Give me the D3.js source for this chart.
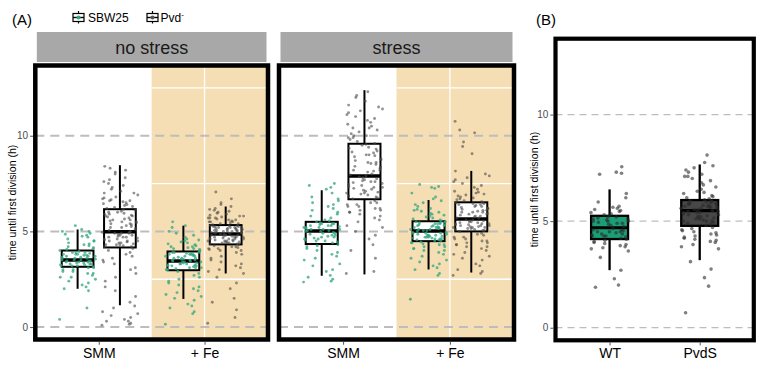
<!DOCTYPE html>
<html>
<head>
<meta charset="utf-8">
<script src="https://cdn.jsdelivr.net/npm/d3@7"></script>
<style>
  body { margin: 0; background: #fff; }
  svg { display: block; font-family: "Liberation Sans", Arial, sans-serif; }
</style>
</head>
<body>
<svg id="chart" width="764" height="366"></svg>
<script>
const stressLevels = ["no stress", "stress"];
const media = ["SMM", "+ Fe"];
const strains = ["SBW25", "Pvd"];
const strainsB = ["WT", "PvdS"];
const yTicks = [0, 5, 10];
const yTitle = "time until first division (h)";

// box summaries: [lower whisker, q1, median, q3, upper whisker], per medium then strain
const boxNoStress = [
  [[2.0, 3.15, 3.5, 4.0, 5.1], [1.14, 4.16, 4.98, 6.16, 8.46]],
  [[1.47, 2.97, 3.45, 3.95, 5.3], [2.8, 4.32, 4.86, 5.33, 6.3]]
];
const boxStress = [
  [[2.68, 4.34, 5.02, 5.5, 7.15], [2.75, 6.68, 7.9, 9.58, 12.38]],
  [[3.01, 4.49, 5.02, 5.53, 6.64], [2.85, 5.0, 5.65, 6.52, 8.16]]
];
const boxB = [[2.7, 4.16, 4.69, 5.25, 6.49], [3.17, 4.78, 5.49, 5.99, 7.66]];

// single cells (h)
const ptsNoStressSMM_SBW25 = [0.4,1.0,1.9,2.0,2.1,2.2,2.3,2.4,2.5,2.6,2.6,2.7,2.8,2.8,2.9,2.9,3.0,3.0,3.1,3.1,
  3.15,3.2,3.2,3.25,3.3,3.3,3.35,3.4,3.4,3.45,3.45,3.5,3.5,3.5,3.2,3.3,3.4,3.35,3.25,3.45,
  3.55,3.6,3.6,3.65,3.7,3.7,3.75,3.8,3.8,3.85,3.9,3.9,3.95,4.0,3.6,3.7,3.8,3.9,3.65,3.75,
  4.05,4.1,4.15,4.2,4.25,4.3,4.35,4.4,4.5,4.5,4.6,4.7,4.75,4.8,4.85,4.9,5.0,5.0,5.1,5.3];
const ptsNoStressSMM_Pvd = [0.1,0.15,0.2,0.3,0.3,0.4,0.5,0.6,0.7,0.8,1.0,1.1,1.3,1.6,1.9,2.1,2.4,2.6,2.8,3.0,3.1,3.3,3.4,3.5,3.6,3.7,3.8,3.9,4.0,4.1,
  4.2,4.2,4.25,4.3,4.3,4.35,4.4,4.4,4.45,4.5,4.5,4.55,4.6,4.6,4.65,4.7,4.7,4.75,4.8,4.8,4.85,4.9,4.9,4.95,4.95,5.0,4.3,4.5,4.7,4.9,
  5.05,5.1,5.15,5.2,5.25,5.3,5.35,5.4,5.45,5.5,5.55,5.6,5.65,5.7,5.75,5.8,5.85,5.9,5.95,6.0,6.05,6.1,6.15,5.2,5.4,5.6,5.8,6.0,5.5,5.9,
  6.2,6.25,6.3,6.35,6.4,6.45,6.5,6.55,6.6,6.65,6.7,6.75,6.8,6.9,7.0,7.0,7.1,7.2,7.3,7.4,7.5,7.6,7.7,7.8,8.0,8.1,8.2,8.3,8.4,6.6];
const ptsNoStressFe_SBW25 = [0.15,0.7,0.8,1.0,1.1,1.2,1.4,1.5,1.6,1.7,1.8,1.9,2.0,2.1,2.2,2.3,2.4,2.5,2.6,2.7,2.8,2.9,
  3.0,3.0,3.05,3.1,3.1,3.15,3.2,3.2,3.25,3.25,3.3,3.3,3.35,3.35,3.4,3.4,3.45,3.45,3.1,3.2,3.3,3.0,3.4,
  3.5,3.5,3.55,3.55,3.6,3.6,3.65,3.7,3.7,3.75,3.75,3.8,3.8,3.85,3.85,3.9,3.9,3.95,3.6,3.7,3.8,3.5,3.9,
  4.0,4.05,4.1,4.1,4.15,4.2,4.2,4.25,4.3,4.35,4.4,4.45,4.5,4.55,4.6,4.7,4.8,4.9,5.0,5.2,5.3,5.5];
const ptsNoStressFe_Pvd = [0.2,0.5,0.9,1.3,1.5,2.0,2.3,2.6,2.8,2.9,3.0,3.1,3.2,3.3,3.4,3.5,3.6,3.7,3.8,3.9,4.0,4.0,4.05,4.1,4.1,4.15,4.2,4.2,4.25,4.3,
  4.35,4.35,4.4,4.4,4.45,4.45,4.5,4.5,4.55,4.55,4.6,4.6,4.65,4.65,4.7,4.7,4.75,4.75,4.8,4.8,4.85,4.85,4.4,4.5,4.6,4.7,4.8,4.5,4.6,4.7,
  4.9,4.9,4.95,4.95,5.0,5.0,5.05,5.05,5.1,5.1,5.15,5.15,5.2,5.2,5.25,5.25,5.3,5.3,4.9,5.0,5.1,5.2,5.3,5.0,5.1,5.2,4.95,5.05,5.15,5.25,
  5.35,5.4,5.4,5.45,5.5,5.5,5.55,5.6,5.6,5.65,5.7,5.7,5.75,5.8,5.8,5.85,5.9,5.95,6.0,6.05,6.1,6.15,6.2,6.3,6.4,6.5,6.7,7.06,5.5,5.7];
const ptsStressSMM_SBW25 = [2.35,2.4,2.5,2.6,2.7,2.9,3.0,3.2,3.3,3.5,3.6,3.7,3.8,3.9,4.0,4.1,4.2,4.25,4.3,
  4.4,4.45,4.5,4.55,4.6,4.65,4.7,4.75,4.8,4.85,4.9,4.95,5.0,4.5,4.6,4.7,4.8,4.9,5.0,
  5.05,5.1,5.1,5.15,5.2,5.2,5.25,5.3,5.3,5.35,5.4,5.4,5.45,5.5,5.1,5.2,5.3,5.4,5.05,
  5.55,5.6,5.7,5.8,5.9,6.0,6.1,6.2,6.3,6.4,6.5,6.6,6.7,6.8,7.0,7.2,7.3,7.4,7.5];
const ptsStressSMM_Pvd = [2.8,2.9,3.6,4.0,4.3,4.6,4.8,5.0,5.2,5.3,5.5,5.6,5.7,5.8,5.9,6.0,6.0,6.1,6.1,6.2,6.2,6.3,6.3,6.4,6.4,6.5,6.5,6.6,
  6.7,6.75,6.8,6.85,6.9,6.95,7.0,7.05,7.1,7.15,7.2,7.25,7.3,7.35,7.4,7.45,7.5,7.55,7.6,7.65,7.7,7.75,7.8,7.85,7.9,7.0,7.3,7.6,
  7.95,8.0,8.1,8.15,8.2,8.3,8.35,8.4,8.5,8.55,8.6,8.7,8.75,8.8,8.9,8.95,9.0,9.1,9.15,9.2,9.3,9.35,9.4,9.5,9.55,8.2,8.6,9.0,
  9.6,9.7,9.8,9.9,10.0,10.0,10.1,10.2,10.3,10.4,10.5,10.6,10.7,10.8,10.9,11.0,11.1,11.2,11.3,11.4,11.5,11.6,11.8,12.0,12.1,12.3,10.4,9.9];
const ptsStressFe_SBW25 = [1.45,2.7,2.8,3.0,3.1,3.2,3.3,3.4,3.5,3.6,3.7,3.8,3.9,4.0,4.0,4.1,4.1,4.2,4.2,4.3,4.3,4.35,4.4,4.4,4.45,
  4.5,4.5,4.55,4.55,4.6,4.6,4.65,4.65,4.7,4.7,4.75,4.75,4.8,4.8,4.85,4.85,4.9,4.9,4.95,4.95,5.0,4.6,4.7,4.8,4.9,
  5.05,5.05,5.1,5.1,5.15,5.15,5.2,5.2,5.25,5.25,5.3,5.3,5.35,5.35,5.4,5.4,5.45,5.45,5.5,5.5,5.1,5.2,5.3,5.4,5.5,
  5.55,5.6,5.65,5.7,5.75,5.8,5.85,5.9,5.95,6.0,6.05,6.1,6.15,6.2,6.3,6.4,6.5,6.6,6.7,6.8,7.0,7.25,7.3,7.35,7.45];
const ptsStressFe_Pvd = [2.7,2.8,2.9,3.0,3.2,3.3,3.5,3.6,3.7,3.8,3.9,4.0,4.1,4.2,4.2,4.3,4.3,4.4,4.4,4.5,4.5,4.6,4.6,4.7,4.7,4.8,4.85,4.9,
  5.0,5.05,5.05,5.1,5.1,5.15,5.15,5.2,5.2,5.25,5.25,5.3,5.3,5.35,5.35,5.4,5.4,5.45,5.45,5.5,5.5,5.55,5.55,5.6,5.6,5.2,5.3,5.4,
  5.7,5.7,5.75,5.8,5.85,5.9,5.95,6.0,6.0,6.05,6.1,6.15,6.2,6.2,6.25,6.3,6.35,6.4,6.4,6.45,6.5,6.5,5.8,5.9,6.0,6.1,6.3,6.45,
  6.55,6.6,6.65,6.7,6.75,6.8,6.85,6.9,6.95,7.0,7.05,7.1,7.2,7.3,7.4,7.5,7.6,7.7,7.8,7.9,8.0,8.15,9.06,9.44,9.67,10.15,10.3,10.75];
const ptsB_WT = [1.9,2.0,2.3,2.7,3.3,3.6,3.7,3.75,3.8,3.85,3.9,3.95,4.0,4.05,4.1,4.15,
  4.2,4.25,4.3,4.3,4.35,4.4,4.4,4.45,4.5,4.5,4.55,4.6,4.6,4.65,4.3,4.5,
  4.75,4.8,4.85,4.9,4.95,5.0,5.0,5.05,5.1,5.1,5.15,5.2,5.2,5.25,4.9,5.0,
  5.3,5.35,5.4,5.45,5.5,5.55,5.6,5.65,5.7,5.9,6.1,6.3,7.2,7.25,7.3,7.55];
const ptsB_PvdS = [0.7,1.95,2.35,2.75,3.1,3.7,3.8,3.9,4.0,4.05,4.1,4.15,4.2,4.25,4.3,4.35,4.4,4.45,4.5,4.55,4.6,4.65,4.7,
  4.8,4.85,4.9,4.95,5.0,5.0,5.05,5.1,5.1,5.15,5.2,5.2,5.25,5.3,5.3,5.35,5.4,5.4,5.45,5.45,5.0,5.2,5.4,
  5.5,5.55,5.55,5.6,5.6,5.65,5.65,5.7,5.7,5.75,5.75,5.8,5.8,5.85,5.85,5.9,5.9,5.95,5.95,5.6,5.7,5.8,5.9,
  6.0,6.05,6.1,6.15,6.2,6.3,6.35,6.4,6.5,6.6,6.7,6.8,6.9,7.0,7.1,7.1,7.2,7.3,7.4,7.5,7.6,7.75,8.1];

const pointsNoStress = [[ptsNoStressSMM_SBW25, ptsNoStressSMM_Pvd], [ptsNoStressFe_SBW25, ptsNoStressFe_Pvd]];
const pointsStress = [[ptsStressSMM_SBW25, ptsStressSMM_Pvd], [ptsStressFe_SBW25, ptsStressFe_Pvd]];

const green = "#1b9e77",
      ptGreen = "#2fa67e",
      ptGrey = "#4a4a4a",
      tan = "#f5deb3",
      dashGrey = "#bdbdbd";

const svg = d3.select("#chart");

// sideways spread for the points (quadratic Weyl sequence, x placement only)
const jitter = i => ((i * 0.6180339887 + i * i * 0.1414213562) % 1) - 0.5;

function drawBox(g, cx, halfW, s, y, fill, lw, medW) {
  g.append("line")
    .attr("x1", cx).attr("x2", cx)
    .attr("y1", y(s[0])).attr("y2", y(s[4]))
    .attr("stroke", "#000").attr("stroke-width", lw);
  g.append("rect")
    .attr("x", cx - halfW).attr("width", halfW * 2)
    .attr("y", y(s[3])).attr("height", y(s[1]) - y(s[3]))
    .attr("fill", fill).attr("stroke", "#000").attr("stroke-width", lw);
  g.append("line")
    .attr("x1", cx - halfW).attr("x2", cx + halfW)
    .attr("y1", y(s[2])).attr("y2", y(s[2]))
    .attr("stroke", "#000").attr("stroke-width", medW);
}

/* ---------- panel A ---------- */
const yA = d3.scaleLinear().domain([-0.65, 13.67]).range([339.5, 65.5]);
const panelsA = [
  {label: stressLevels[0], x0: 35.3, x1: 268, boxes: boxNoStress, pts: pointsNoStress, axis: true},
  {label: stressLevels[1], x0: 279, x1: 514, boxes: boxStress, pts: pointsStress, axis: false}
];

panelsA.forEach(p => {
  const x = d3.scalePoint().domain(media).range([p.x0, p.x1]).padding(0.6);
  const step = x.step();
  const g = svg.append("g");
  const top = yA.range()[1], bottom = yA.range()[0];

  // +Fe background
  const feLeft = x(media[1]) - step / 2;
  g.append("rect")
    .attr("x", feLeft).attr("y", top)
    .attr("width", p.x1 - feLeft).attr("height", bottom - top)
    .attr("fill", tan);
  g.selectAll(".wline").data([2.5, 7.5, 12.5]).enter().append("line")
    .attr("x1", feLeft).attr("x2", p.x1)
    .attr("y1", d => yA(d)).attr("y2", d => yA(d))
    .attr("stroke", "#fff").attr("stroke-width", 1.3);
  g.append("line")
    .attr("x1", x(media[1])).attr("x2", x(media[1]))
    .attr("y1", top).attr("y2", bottom)
    .attr("stroke", "#fff").attr("stroke-width", 1.3);

  g.selectAll(".dash").data(yTicks).enter().append("line")
    .attr("x1", p.x0).attr("x2", p.x1)
    .attr("y1", d => yA(d)).attr("y2", d => yA(d))
    .attr("stroke", dashGrey).attr("stroke-width", 2)
    .attr("stroke-dasharray", "9,6");

  media.forEach((m, mi) => {
    strains.forEach((s, si) => {
      const cx = x(m) + (si === 0 ? -0.2 : 0.2) * step;
      drawBox(g, cx, 0.15 * step, p.boxes[mi][si], yA, "#fff", 2, 3.5);
      g.append("g").selectAll("circle")
        .data(p.pts[mi][si]).enter().append("circle")
        .attr("cx", (d, i) => cx + jitter(i) * 0.34 * step)
        .attr("cy", d => yA(d))
        .attr("r", 1.45)
        .attr("fill", si === 0 ? ptGreen : ptGrey)
        .attr("fill-opacity", si === 0 ? 0.75 : 0.6);
    });
  });

  // frame
  g.append("rect")
    .attr("x", p.x0).attr("y", top)
    .attr("width", p.x1 - p.x0).attr("height", bottom - top)
    .attr("fill", "none").attr("stroke", "#000").attr("stroke-width", 4.5);

  // strip
  g.append("rect")
    .attr("x", p.x0 + 1.5).attr("y", 32)
    .attr("width", p.x1 - p.x0 - 3).attr("height", 30)
    .attr("fill", "#a8a8a8");
  g.append("text")
    .attr("x", (p.x0 + p.x1) / 2).attr("y", 53.5)
    .attr("text-anchor", "middle").attr("font-size", 18).attr("fill", "#1a1a1a")
    .text(p.label);

  // x axis
  const xa = g.append("g")
    .attr("transform", `translate(0,${bottom + 2.25})`)
    .call(d3.axisBottom(x).tickSize(3).tickPadding(3));
  xa.select(".domain").remove();
  xa.selectAll("line").attr("stroke", "#555");
  xa.selectAll("text").attr("font-size", 14).attr("fill", "#000")
    .attr("font-family", "Liberation Sans, Arial, sans-serif");

  if (p.axis) {
    const ya = g.append("g")
      .attr("transform", `translate(${p.x0 - 2.25},0)`)
      .call(d3.axisLeft(yA).tickValues(yTicks).tickSize(3).tickPadding(2));
    ya.select(".domain").remove();
    ya.selectAll("line").attr("stroke", "#555");
    ya.selectAll("text").attr("font-size", 10).attr("fill", "#4d4d4d")
      .attr("font-family", "Liberation Sans, Arial, sans-serif");
    g.append("text")
      .attr("transform", `translate(16,${(top + bottom) / 2}) rotate(-90)`)
      .attr("text-anchor", "middle").attr("font-size", 10.5).attr("fill", "#000")
      .text(yTitle);
  }
});

svg.append("text").attr("x", 12).attr("y", 25).attr("font-size", 15).text("(A)");

// legend
const legend = svg.append("g");
[[73, strains[0], ptGreen], [147, strains[1], "#555"]].forEach(([lx, name, col], k) => {
  const lg = legend.append("g").attr("transform", `translate(${lx},0)`);
  lg.append("line").attr("x1", 5.5).attr("x2", 5.5).attr("y1", 11).attr("y2", 23.5)
    .attr("stroke", "#000").attr("stroke-width", 1.2);
  lg.append("rect").attr("x", 0).attr("y", 13.5).attr("width", 11).attr("height", 8)
    .attr("fill", "#fff").attr("stroke", "#000").attr("stroke-width", 1.2);
  lg.append("line").attr("x1", 0).attr("x2", 11).attr("y1", 17.5).attr("y2", 17.5)
    .attr("stroke", "#000").attr("stroke-width", 1.4);
  lg.append("circle").attr("cx", 5.5).attr("cy", 17.5).attr("r", 2).attr("fill", col);
  const t = lg.append("text").attr("x", k === 0 ? 15 : 13.5).attr("y", 21.5)
    .attr("font-size", 12).attr("fill", "#000").text(name);
  if (k === 1) t.append("tspan").attr("dy", -5).attr("font-size", 8).text("-");
});

/* ---------- panel B ---------- */
const yB = d3.scaleLinear().domain([-0.59, 13.56]).range([340.3, 38.7]);
const xB = d3.scalePoint().domain(strainsB).range([555.5, 753.8]).padding(0.6);
const gB = svg.append("g");
const stepB = xB.step();

gB.selectAll(".dash").data(yTicks).enter().append("line")
  .attr("x1", 555.5).attr("x2", 753.8)
  .attr("y1", d => yB(d)).attr("y2", d => yB(d))
  .attr("stroke", dashGrey).attr("stroke-width", 1.3)
  .attr("stroke-dasharray", "7,5");

[ptsB_WT, ptsB_PvdS].forEach((pts, si) => {
  const cx = xB(strainsB[si]);
  drawBox(gB, cx, 0.205 * stepB, boxB[si], yB, si === 0 ? green : "#474747", 2.3, 3.2);
  gB.append("g").selectAll("circle")
    .data(pts).enter().append("circle")
    .attr("cx", (d, i) => cx + jitter(i + 3) * 0.42 * stepB)
    .attr("cy", d => yB(d))
    .attr("r", 1.8)
    .attr("fill", "#2b2b2b").attr("fill-opacity", 0.6);
});

gB.append("rect")
  .attr("x", 555.5).attr("y", 38.7)
  .attr("width", 753.8 - 555.5).attr("height", 340.3 - 38.7)
  .attr("fill", "none").attr("stroke", "#000").attr("stroke-width", 4.2);

const xaB = gB.append("g")
  .attr("transform", "translate(0,342.4)")
  .call(d3.axisBottom(xB).tickSize(3).tickPadding(3));
xaB.select(".domain").remove();
xaB.selectAll("line").attr("stroke", "#555");
xaB.selectAll("text").attr("font-size", 14).attr("fill", "#000")
  .attr("font-family", "Liberation Sans, Arial, sans-serif");

const yaB = gB.append("g")
  .attr("transform", "translate(553.4,0)")
  .call(d3.axisLeft(yB).tickValues(yTicks).tickSize(3).tickPadding(2));
yaB.select(".domain").remove();
yaB.selectAll("line").attr("stroke", "#555");
yaB.selectAll("text").attr("font-size", 10).attr("fill", "#4d4d4d")
  .attr("font-family", "Liberation Sans, Arial, sans-serif");
gB.append("text")
  .attr("transform", `translate(538,${(38.7 + 340.3) / 2}) rotate(-90)`)
  .attr("text-anchor", "middle").attr("font-size", 10.5).attr("fill", "#000")
  .text(yTitle);

svg.append("text").attr("x", 536).attr("y", 25).attr("font-size", 15).text("(B)");
</script>
</body>
</html>
